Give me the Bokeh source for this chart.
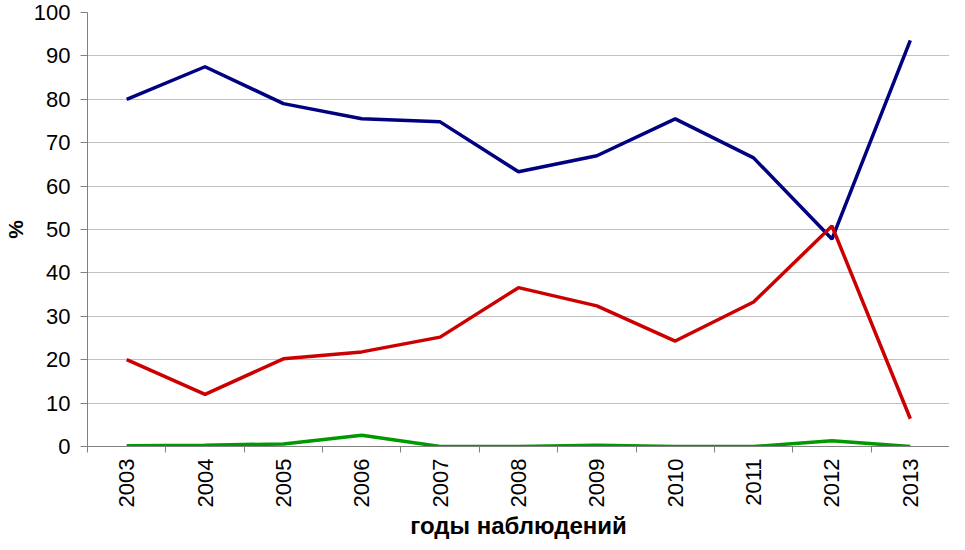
import math
from bokeh.plotting import figure
from bokeh.models import FixedTicker, Range1d
from bokeh.embed import file_html
from bokeh.resources import INLINE

years = [2003, 2004, 2005, 2006, 2007, 2008, 2009, 2010, 2011, 2012, 2013]
series_blue = [80.0, 87.5, 79.0, 75.5, 74.8, 63.3, 67.0, 75.5, 66.5, 47.8, 93.6]
series_red = [20.0, 12.0, 20.2, 21.8, 25.2, 36.6, 32.4, 24.3, 33.3, 50.8, 6.4]
series_green = [0.2, 0.3, 0.6, 2.6, 0.0, 0.0, 0.3, 0.0, 0.0, 1.3, 0.0]
y_ticks = [0, 10, 20, 30, 40, 50, 60, 70, 80, 90, 100]
x_title = "годы наблюдений"
y_title = "%"

FONT = "Liberation Sans"

p = figure(width=949, height=542, output_backend="svg", toolbar_location=None,
           x_range=Range1d(years[0] - 0.5, years[-1] + 0.5),
           y_range=Range1d(0, 100),
           min_border_left=81, min_border_right=0, min_border_top=12)
p.outline_line_color = None
p.background_fill_color = "white"
p.border_fill_color = "white"

# x axis: labels at the year, tick marks between years
p.xaxis.ticker = FixedTicker(ticks=years, minor_ticks=[y - 0.5 for y in years] + [years[-1] + 0.5])
p.xaxis.major_tick_out = 0
p.xaxis.major_tick_in = 0
p.xaxis.minor_tick_out = 6
p.xaxis.minor_tick_in = 0
p.xaxis.minor_tick_line_color = "#808080"
p.xaxis.axis_line_color = "#808080"
p.xaxis.major_label_orientation = math.pi / 2
p.xaxis.major_label_standoff = 6
p.xaxis.major_label_text_font = FONT
p.xaxis.major_label_text_font_size = "22px"
p.xaxis.major_label_text_color = "black"
p.xaxis.axis_label = x_title
p.xaxis.axis_label_text_font = FONT
p.xaxis.axis_label_text_font_size = "24px"
p.xaxis.axis_label_text_font_style = "bold"
p.xaxis.axis_label_text_color = "black"
p.xaxis.axis_label_standoff = 2
p.xaxis.formatter.use_scientific = False

# y axis
p.yaxis.ticker = FixedTicker(ticks=y_ticks, minor_ticks=[])
p.yaxis.major_tick_out = 7
p.yaxis.major_tick_in = 0
p.yaxis.major_tick_line_color = "#808080"
p.yaxis.axis_line_color = "#808080"
p.yaxis.major_label_standoff = 10
p.yaxis.major_label_text_font = FONT
p.yaxis.major_label_text_font_size = "22px"
p.yaxis.major_label_text_color = "black"
p.yaxis.axis_label = y_title
p.yaxis.axis_label_text_font = FONT
p.yaxis.axis_label_text_font_size = "21px"
p.yaxis.axis_label_text_font_style = "bold"
p.yaxis.axis_label_text_color = "black"
p.yaxis.axis_label_standoff = 4

p.xgrid.grid_line_color = None
p.ygrid.grid_line_color = "#808080"
p.ygrid.grid_line_dash = "1 1"
p.ygrid.grid_line_width = 1

p.line(years, series_blue, line_color="#000080", line_width=3.5)
p.line(years, series_red, line_color="#CC0000", line_width=3.5)
p.line(years, series_green, line_color="#009900", line_width=3.5)

open("out.html", "w").write(file_html(p, INLINE))
